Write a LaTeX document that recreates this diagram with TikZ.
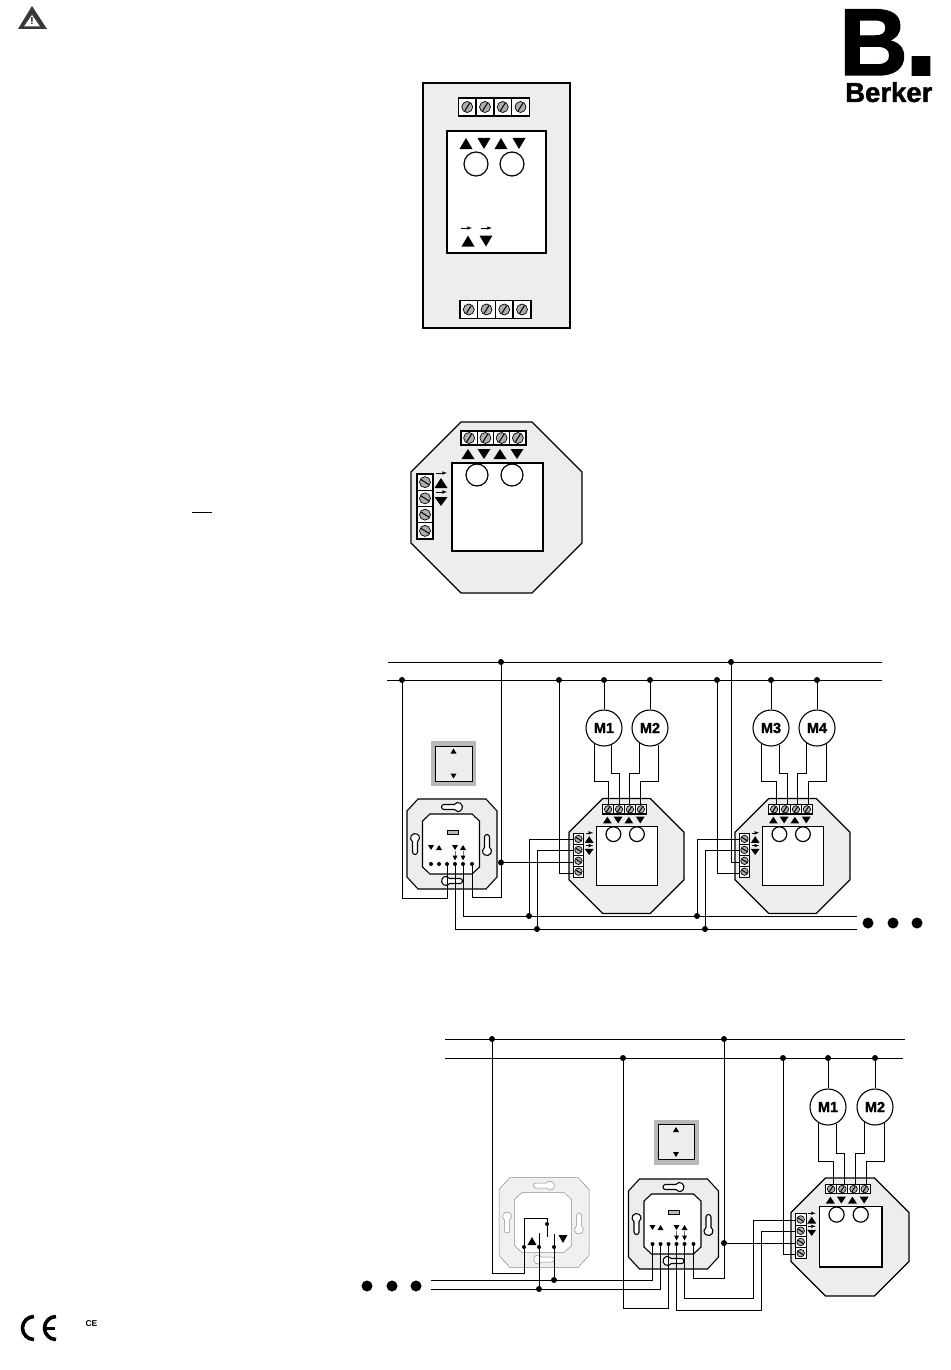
\documentclass[tikz,border=0pt]{standalone}
\usepackage{fontspec}
\setmainfont{Liberation Sans}
\newfontfamily\logofont[BoldFeatures={FakeBold=1.5}]{Liberation Sans}

\definecolor{panelgray}{gray}{0.93}
\definecolor{screwgray}{gray}{0.68}
\definecolor{rockergray}{gray}{0.72}

\newcommand{\upmark}[4]{\fill[shift={(#1,#2)}] (-#3,#4) -- (#3,#4) -- (0,-#4) -- cycle;}
\newcommand{\dnmark}[4]{\fill[shift={(#1,#2)}] (-#3,-#4) -- (#3,-#4) -- (0,#4) -- cycle;}
\newcommand{\screwrise}{\draw[fill=screwgray,line width=.7pt] (0,0) circle (5.5);
    \draw[line width=1pt] (-2.5,4) -- (2.5,-4);}
\newcommand{\screwfall}{\draw[fill=screwgray,line width=.7pt] (0,0) circle (5.5);
    \draw[line width=1pt] (-4,-2.5) -- (4,2.5);}

\tikzset{
    termcell/.style={draw,fill=white,minimum width=16.25pt,minimum height=14pt,
        inner sep=0pt,line width=1.1pt,transform shape},
    frameline/.style={draw=black,line width=1.1pt,fill=panelgray},
    slothole/.pic={
        \draw[frameline,fill=white] (-8,-2.5) -- (2.26,-2.5)
            arc[start angle=213.7,end angle=506.3,radius=4.5]
            -- (-8,2.5) arc[start angle=90,end angle=270,radius=2.5] -- cycle;
    },
    insertframe/.pic={
        \draw[frameline] (-34,-45) -- (34,-45) -- (45,-33) -- (45,33) -- (34,45)
            -- (-34,45) -- (-45,33) -- (-45,-33) -- cycle;
        \draw[frameline,fill=white] (-22,-30) -- (20,-30) -- (27.5,-23) -- (27.5,23)
            -- (20,30) -- (-22,30) -- (-29.5,23) -- (-29.5,-23) -- cycle;
        \pic at (0,-37) {slothole};
        \pic at (0,37) [rotate=180] {slothole};
        \pic at (-37,0) [rotate=90] {slothole};
        \pic at (35,1) [rotate=-90] {slothole};
    },
    insertbox/.pic={
        \pic at (0,0) {insertframe};
        \draw[fill=rockergray,line width=.5pt] (-5,-14) rectangle (6,-10);
        \upmark{-13}{3.5}{3}{2.5}
        \dnmark{-21}{3.5}{3}{2.5}
        \dnmark{3}{3.5}{3}{2.5}
        \upmark{11}{3.5}{3}{2.5}
        \foreach \x in {3,11} {
            \draw[line width=.4pt,black!55] (\x,7) -- (\x,12);
            \dnmark{\x}{14}{2.5}{2.5}
        }
        \foreach \i/\x in {1/-21,2/-13,3/-5,4/3,5/11,6/20} {
            \node[pindot] (-p\i) at (\x,20) {};
        }
    },
    octobox/.pic={
        \draw[line width=1.2pt,fill=panelgray] (-35.5,-85.5) -- (35.5,-85.5) -- (85.5,-35.5)
            -- (85.5,35.5) -- (35.5,85.5) -- (-35.5,85.5) -- (-85.5,35.5) -- (-85.5,-35.5) -- cycle;
        \draw[line width=1.2pt,fill=white] (-44.5,-44.5) rectangle (46.5,43.5);
        \draw[line width=1.2pt,fill=white] (-19.5,-32.5) circle (11);
        \draw[line width=1.2pt,fill=white] (15.5,-32.5) circle (11);
        \foreach \i in {1,...,4} {
            \begin{scope}[shift={({-43.625+16.25*\i},-69.5)}]
                \node[termcell] (-t\i) at (0,0) {};
                \screwrise
            \end{scope}
            \begin{scope}[shift={(-71.5,{-41.625+16.25*\i})}]
                \node[termcell,minimum width=16pt,minimum height=16.25pt] (-s\i) at (0,0) {};
                \screwfall
            \end{scope}
        }
        \upmark{-28.5}{-53.5}{6.5}{5}
        \dnmark{-12.5}{-53.5}{6.5}{5}
        \upmark{3.5}{-53.5}{6.5}{5}
        \dnmark{20.5}{-53.5}{6.5}{5}
        \draw[-latex,line width=.6pt] (-60.5,-34.5) -- (-49.5,-34.5);
        \draw[-latex,line width=.6pt] (-60.5,-15.5) -- (-49.5,-15.5);
        \upmark{-55.5}{-24.5}{6.5}{5}
        \dnmark{-55.5}{-6}{6.5}{4.5}
    },
    rockerbox/.pic={
        \fill[rockergray] (-22.5,-22.5) rectangle (22.5,22.5);
        \draw[line width=.9pt,fill=panelgray] (-18,-17.5) rectangle (18.5,17.5);
        \upmark{0}{-12.5}{3}{2.5}
        \dnmark{0}{12.5}{3}{2.5}
    }
}

\begin{document}
\begin{tikzpicture}[x=1pt,y=-1pt,
    wire/.style={line width=1pt},
    dot/.style={circle,fill=black,inner sep=0pt,minimum size=6pt},
    pindot/.style={circle,fill=black,inner sep=0pt,minimum size=4pt},
    bigdot/.style={circle,fill=black,inner sep=0pt,minimum size=11pt},
    motor/.style={circle,draw,fill=white,line width=1.1pt,inner sep=0pt,minimum size=36pt,
        font=\logofont\bfseries\fontsize{14.5}{14.5}\selectfont}]
    \useasboundingbox (0,0) rectangle (950,1370);

    \fill[black!78] (32,6) -- (47,29) -- (18,29) -- cycle;
    \fill[white] (32,15) -- (40,26.5) -- (24,26.5) -- cycle;
    \node[inner sep=0pt,font=\bfseries\fontsize{10}{10}\selectfont] (warnmark) at (32,21.5) {!};

    \node[anchor=base west,inner sep=0pt] (logoB) at (839,75)
        {\logofont\bfseries\fontsize{95}{95}\selectfont B\kern-3.5pt\fontsize{120}{120}\selectfont.};
    \node[anchor=base west,inner sep=0pt] (logotext) at (845,102)
        {\logofont\bfseries\fontsize{27.5}{27.5}\selectfont Berker};

    \draw[line width=1.4pt,fill=panelgray] (423,83) rectangle (570,328);
    \draw[line width=1.3pt,fill=white] (447,131) rectangle (546,253);
    \draw[line width=1.2pt,fill=white] (476,164) circle (12);
    \draw[line width=1.2pt,fill=white] (512,164) circle (12);
    \upmark{466}{143.5}{6.5}{5.5}
    \dnmark{484}{143.5}{6.5}{5.5}
    \upmark{501}{143.5}{6.5}{5.5}
    \dnmark{519}{143.5}{6.5}{5.5}
    \draw[-latex,line width=.6pt] (461,228) -- (472,228);
    \draw[-latex,line width=.6pt] (481,228) -- (492,228);
    \upmark{468}{241}{6.5}{5.5}
    \dnmark{486}{241}{6.5}{5.5}
    \foreach \i in {1,...,4} {
        \begin{scope}[shift={({449.5+17.75*\i},107)}]
            \node[termcell,minimum width=17.75pt,minimum height=18pt,line width=1.3pt] (flattop\i) at (0,0) {};
            \screwrise
        \end{scope}
        \begin{scope}[shift={({451+17.75*\i},309.5)}]
            \node[termcell,minimum width=17.75pt,minimum height=18pt,line width=1.3pt] (flatbot\i) at (0,0) {};
            \screwrise
        \end{scope}
    }

    \pic (act0) at (496.5,507.5) {octobox};
    \coordinate (barl) at (192,512);
    \coordinate (barr) at (212,512);
    \draw[wire] (barl) -- (barr);

    \pic at (453.5,763.5) {rockerbox};
    \pic (sw1) at (452,844) {insertbox};
    \pic (act1) at (626.5,856) [scale=.672] {octobox};
    \pic (act2) at (792.5,856) [scale=.672] {octobox};

    \coordinate (busAl) at (388,662);
    \coordinate (busAr) at (882,662);
    \coordinate (busBl) at (387,680);
    \coordinate (busBr) at (882,680);
    \coordinate (busCr) at (857,916);
    \coordinate (busDr) at (857,929);
    \draw[wire] (busAl) -- (busAr);
    \draw[wire] (busBl) -- (busBr);
    \draw[wire] (sw1-p5) |- (busCr);
    \draw[wire] (sw1-p4) |- (busDr);

    \node[dot] (j1) at (501,662) {};
    \node[dot] (j2) at (402,680) {};
    \node[dot] (j3) at (559,680) {};
    \node[dot] (j4) at (604,680) {};
    \node[dot] (j5) at (650,680) {};
    \node[dot] (j6) at (717,680) {};
    \node[dot] (j7) at (731,662) {};
    \node[dot] (j8) at (771,680) {};
    \node[dot] (j9) at (817,680) {};
    \node[dot] (j10) at (501,862.5) {};
    \node[dot] (j11) at (529,916) {};
    \node[dot] (j12) at (537,929) {};
    \node[dot] (j13) at (697,916) {};
    \node[dot] (j14) at (705,929) {};

    \node[motor] (mot1) at (604,728) {M1};
    \node[motor] (mot2) at (650,728) {M2};
    \node[motor] (mot3) at (771,728) {M3};
    \node[motor] (mot4) at (817,728) {M4};

    \draw[wire] (sw1-p3) |- (402,898) -- (j2);
    \draw[wire] (sw1-p6) |- (501,897) -- (j1);
    \draw[wire] (j10) -- (j10 -| act1-s3.west);
    \draw[wire] (j3) |- ([yshift=-1.5pt]act1-s4.west);
    \draw[wire] (j11) |- ([yshift=-1pt]act1-s1.west);
    \draw[wire] (j12) |- ([yshift=-1pt]act1-s2.west);
    \draw[wire] (j7) |- ([yshift=-1.5pt]act2-s3.west);
    \draw[wire] (j6) |- ([yshift=-1.5pt]act2-s4.west);
    \draw[wire] (j13) |- ([yshift=-1pt]act2-s1.west);
    \draw[wire] (j14) |- ([yshift=-1pt]act2-s2.west);

    \draw[wire] (j4) -- (mot1);
    \draw[wire] (j5) -- (mot2);
    \draw[wire] (j8) -- (mot3);
    \draw[wire] (j9) -- (mot4);
    \draw[wire] (mot1.240) |- (act1-t1.north |- 0,781) -- (act1-t1.north);
    \draw[wire] (mot1.293) |- (act1-t2.north |- 0,773) -- (act1-t2.north);
    \draw[wire] (mot2.236) |- (act1-t3.north |- 0,773) -- (act1-t3.north);
    \draw[wire] (mot2.296) |- (act1-t4.north |- 0,781) -- (act1-t4.north);
    \draw[wire] (mot3.240) |- ([xshift=2pt]act2-t1.north |- 0,781) -- ([xshift=2pt]act2-t1.north);
    \draw[wire] (mot3.296) |- ([xshift=2pt]act2-t2.north |- 0,773) -- ([xshift=2pt]act2-t2.north);
    \draw[wire] (mot4.236) |- ([xshift=2pt]act2-t3.north |- 0,773) -- ([xshift=2pt]act2-t3.north);
    \draw[wire] (mot4.300) |- ([xshift=2pt]act2-t4.north |- 0,781) -- ([xshift=2pt]act2-t4.north);

    \node[bigdot] (more1) at (868,923) {};
    \node[bigdot] (more2) at (893,923) {};
    \node[bigdot] (more3) at (917,923) {};

    \pic[frameline/.style={draw=black!45,line width=.5pt,fill=black!6}] at (544,1222.5) {insertframe};
    \pic at (676,1142) {rockerbox};
    \pic (sw2) at (673.5,1224) {insertbox};
    \pic (act3) at (850,1237) [scale=.69] {octobox};

    \coordinate (busEl) at (445,1039);
    \coordinate (busEr) at (905,1039);
    \coordinate (busFl) at (445,1058);
    \coordinate (busFr) at (903,1058);
    \coordinate (busGl) at (431,1280);
    \coordinate (busHl) at (431,1289);
    \coordinate (cont1) at (547,1237);
    \coordinate (cont2) at (539,1233);
    \coordinate (cont3) at (554,1234);
    \draw[wire] (busEl) -- (busEr);
    \draw[wire] (busFl) -- (busFr);
    \draw[wire] (busGl) -| (sw2-p1);
    \draw[wire] (busHl) -| (sw2-p2);

    \node[dot] (k1) at (492,1039) {};
    \node[dot] (k2) at (623,1058) {};
    \node[dot] (k3) at (724,1039) {};
    \node[dot] (k4) at (783,1058) {};
    \node[dot] (k5) at (828,1058) {};
    \node[dot] (k6) at (875,1058) {};
    \node[dot] (k7) at (724,1243) {};
    \node[dot] (k8) at (554,1280) {};
    \node[dot] (k9) at (539,1289) {};
    \node[pindot] (s1) at (524,1247) {};
    \node[pindot] (s2) at (539,1247) {};
    \node[pindot] (s3) at (554,1247) {};
    \node[pindot] (s4) at (547,1224) {};
    \upmark{532}{1241}{4.5}{4}
    \dnmark{563}{1239}{4.5}{4}

    \node[motor] (mot5) at (828,1107) {M1};
    \node[motor] (mot6) at (875,1107) {M2};

    \draw[wire] (k1) |- (524,1273) -- (s1);
    \draw[wire] (s1) -- (524,1218) -| (s4);
    \draw[wire] (s4) -- (cont1);
    \draw[wire] (cont2) -- (k9);
    \draw[wire] (cont3) -- (k8);
    \draw[wire] (sw2-p3) |- (623,1308) -- (k2);
    \draw[wire] (sw2-p6) |- (724,1278) -- (k3);
    \draw[wire] (sw2-p5) |- (753,1298) |- ([yshift=-.5pt]act3-s1.west);
    \draw[wire] (sw2-p4) |- (761,1310) |- ([yshift=-.5pt]act3-s2.west);
    \draw[wire] (k7) -- (k7 -| act3-s3.west);
    \draw[wire] (k4) |- ([yshift=-1.5pt]act3-s4.west);
    \draw[wire] (k5) -- (mot5);
    \draw[wire] (k6) -- (mot6);
    \draw[wire] (mot5.240) |- ([xshift=2pt]act3-t1.north |- 0,1161) -- ([xshift=2pt]act3-t1.north);
    \draw[wire] (mot5.296) |- ([xshift=2pt]act3-t2.north |- 0,1153) -- ([xshift=2pt]act3-t2.north);
    \draw[wire] (mot6.236) |- ([xshift=2pt]act3-t3.north |- 0,1153) -- ([xshift=2pt]act3-t3.north);
    \draw[wire] (mot6.300) |- ([xshift=2pt]act3-t4.north |- 0,1161) -- ([xshift=2pt]act3-t4.north);

    \node[bigdot] (more4) at (367,1286) {};
    \node[bigdot] (more5) at (392,1286) {};
    \node[bigdot] (more6) at (416,1286) {};

    \draw[line width=3.6pt] (34,1316.5) arc[start angle=270,end angle=90,radius=11.5];
    \draw[line width=3.6pt] (56,1316.5) arc[start angle=270,end angle=90,radius=11.5];
    \draw[line width=3pt] (45,1328) -- (55,1328);
    \node[inner sep=0pt,font=\bfseries\fontsize{8.5}{8.5}\selectfont] (cemark) at (91.5,1324) {CE};
\end{tikzpicture}
\end{document}
